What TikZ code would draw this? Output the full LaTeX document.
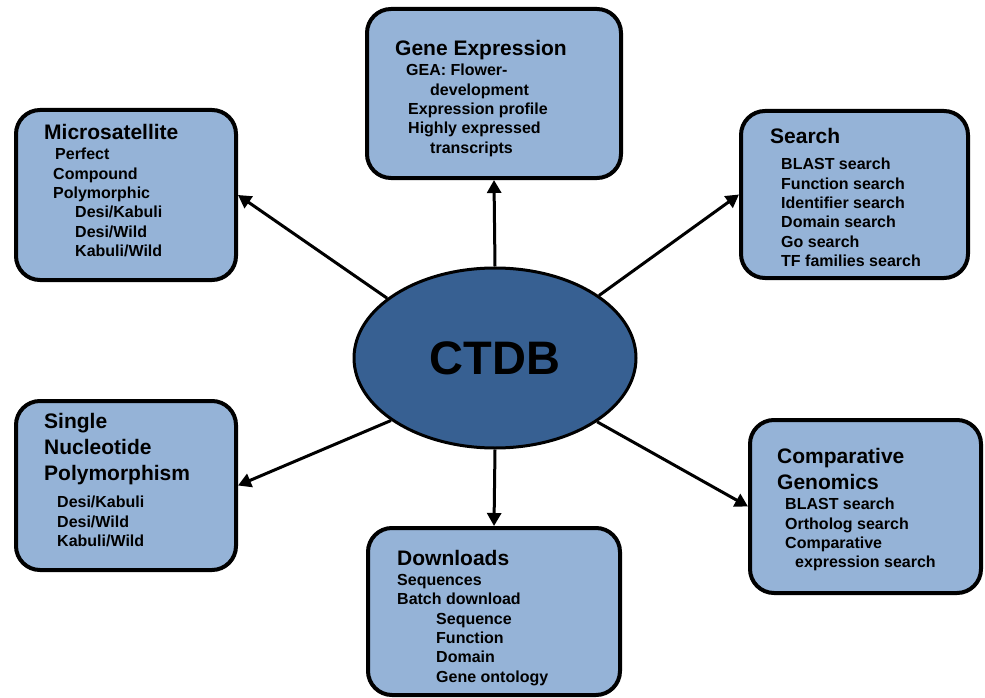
\documentclass[tikz,border=0pt]{standalone}
\usepackage{fontspec}
\setmainfont{Liberation Sans}
\usetikzlibrary{arrows.meta,shapes.geometric}
\definecolor{boxfill}{HTML}{95B3D7}
\definecolor{ellfill}{HTML}{376092}
\begin{document}
\begin{tikzpicture}[x=1pt,y=-1pt,
  box/.style={draw=black, line width=4pt, rounded corners=24pt, fill=boxfill, inner sep=0pt},
  title/.style={anchor=north west, inner sep=0pt, font=\fontsize{21}{25.8}\selectfont\bfseries, align=left},
  body/.style={anchor=north west, inner sep=0pt, font=\fontsize{16}{19.4}\selectfont\bfseries, align=left},
  arr/.style={line width=3pt, -{Triangle[length=13pt,width=14pt]}}]
\useasboundingbox (0,0) rectangle (985,698);

% boxes
\node[box, minimum width=254pt, minimum height=169pt] (ge) at (494,93.5) {};
\node[box, minimum width=220pt, minimum height=170pt] (ms) at (126,195) {};
\node[box, minimum width=227pt, minimum height=167pt] (search) at (854.5,194.5) {};
\node[box, minimum width=220pt, minimum height=169pt] (snp) at (126,485.5) {};
\node[box, minimum width=231pt, minimum height=173pt] (comp) at (865.5,506.5) {};
\node[box, minimum width=252pt, minimum height=167pt] (dl) at (494,611.5) {};

% centre
\node[ellipse, draw=black, line width=3pt, fill=ellfill, minimum width=282pt, minimum height=180pt, inner sep=0pt] (ctdb) at (495,358) {\fontsize{47}{50}\selectfont\bfseries CTDB};

% arrows
\draw[arr] (ctdb.north) -- (ge.south);
\draw[arr] (ctdb.south) -- (dl.north);
\draw[arr] (ctdb.151) -- (ms.east);
\draw[arr] (ctdb.31) -- (search.west);
\draw[arr] (ctdb.211) -- (snp.east);
\draw[arr] (ctdb.328) -- (comp.west);

% texts
\node[title] (geT) at (395,40) {Gene Expression};
\node[body] (geB) at (406,64) {GEA: Flower-\\\hspace*{24pt}development\\\hspace*{2pt}Expression profile\\\hspace*{2pt}Highly expressed\\\hspace*{24pt}transcripts};

\node[title] (msT) at (44,124.5) {Microsatellite};
\node[body] (msB) at (53,148) {\hspace*{2pt}Perfect\\Compound\\Polymorphic\\\hspace*{22pt}Desi/Kabuli\\\hspace*{22pt}Desi/Wild\\\hspace*{22pt}Kabuli/Wild};

\node[title] (seT) at (770,128.5) {Search};
\node[body] (seB) at (781,158) {BLAST search\\Function search\\Identifier search\\Domain search\\Go search\\TF families search};

\node[title] (snT) at (44,413.5) {Single\\Nucleotide\\Polymorphism};
\node[body] (snB) at (57,496) {Desi/Kabuli\\Desi/Wild\\Kabuli/Wild};

\node[title] (coT) at (777,448.5) {Comparative\\Genomics};
\node[body] (coB) at (785,498) {BLAST search\\Ortholog search\\Comparative\\\hspace*{10pt}expression search};

\node[title] (dlT) at (397,550.5) {Downloads};
\node[body] (dlB) at (397,574) {Sequences\\Batch download\\\hspace*{39pt}Sequence\\\hspace*{39pt}Function\\\hspace*{39pt}Domain\\\hspace*{39pt}Gene ontology};
\end{tikzpicture}
\end{document}
